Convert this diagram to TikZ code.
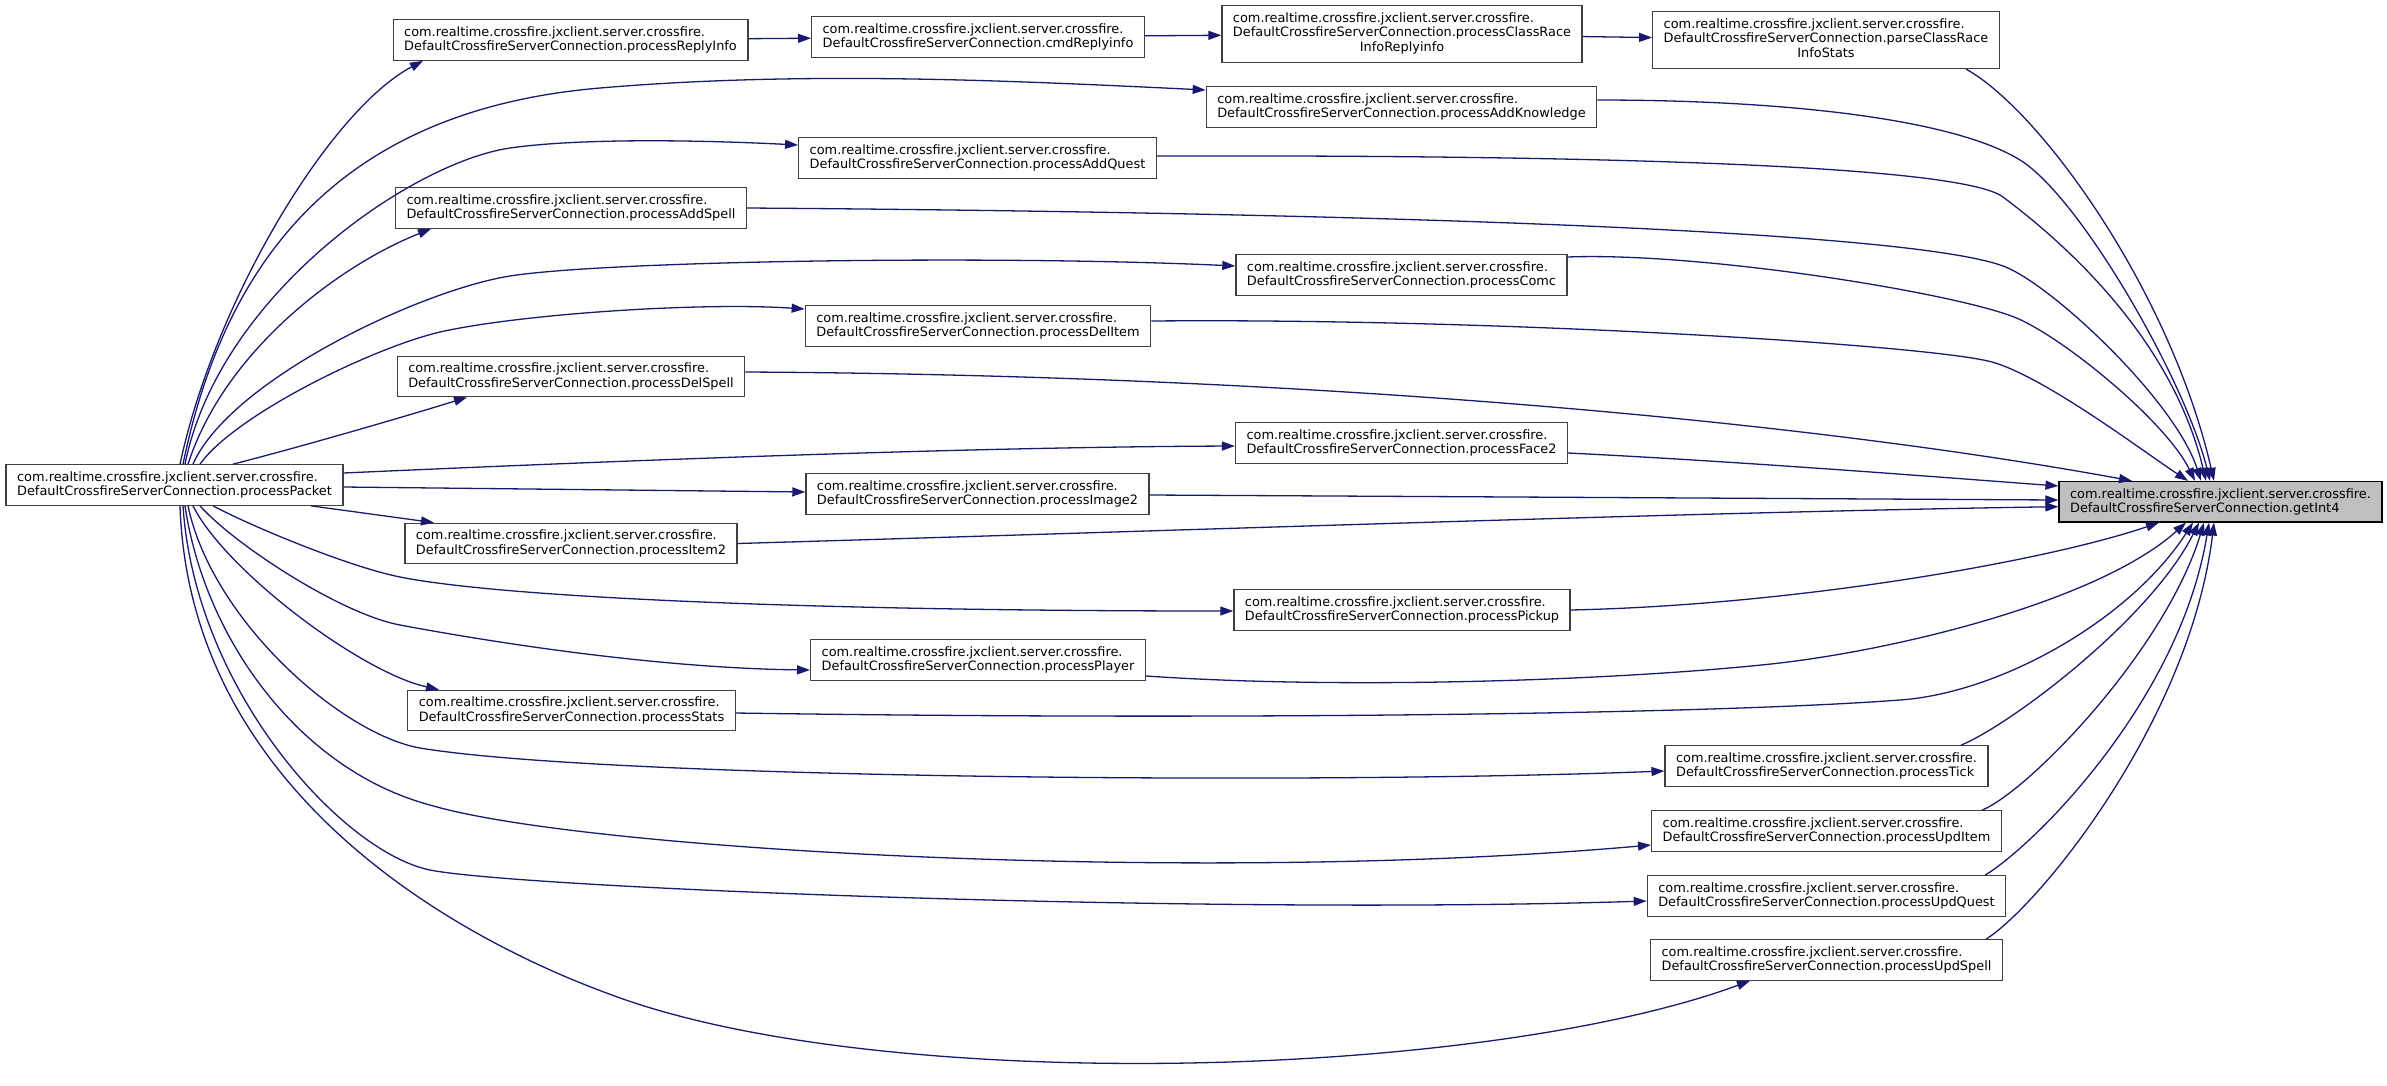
\documentclass[tikz,border=0pt]{standalone}
\usepackage{fontspec}
\setmainfont{DejaVu Sans}
\usetikzlibrary{arrows.meta}
\definecolor{callblue}{HTML}{191970}
\definecolor{boxframe}{HTML}{404040}
\definecolor{focusfill}{HTML}{BFBFBF}
\newcommand{\cfpkg}{com.realtime.crossfire.jxclient.server.crossfire.}
\newcommand{\cfcls}{DefaultCrossfireServerConnection.}
\tikzset{
  fn box/.style={
    draw=boxframe,           % node frame
    line width=1.3bp,
    fill=white,
    align=left,
    inner xsep=11bp, inner ysep=6.7bp,
    font=\fontsize{12.9bp}{14.5bp}\selectfont
  },
  focus box/.style={fn box, draw=black, fill=focusfill},
  call/.style={draw=callblue, line width=1.3bp, -{Triangle[length=13bp,width=9bp]}}
}

\begin{document}
\begin{tikzpicture}[x=1bp, y=-1bp]
    \useasboundingbox (0,0) rectangle (2387,1085);

    % Callers, column by column
    \node[fn box] (pp) at (174.5,485) {\cfpkg\\\cfcls processPacket};

    \node[fn box] (replyInfo) at (570.5,40) {\cfpkg\\\cfcls processReplyInfo};
    \node[fn box] (addSpell) at (571,208) {\cfpkg\\\cfcls processAddSpell};
    \node[fn box] (delSpell) at (571,376.5) {\cfpkg\\\cfcls processDelSpell};
    \node[fn box] (item2) at (571,543.5) {\cfpkg\\\cfcls processItem2};
    \node[fn box] (stats) at (571.5,710.5) {\cfpkg\\\cfcls processStats};

    \node[fn box] (cmdReply) at (978,37) {\cfpkg\\\cfcls cmdReplyinfo};
    \node[fn box] (addQuest) at (977.5,158) {\cfpkg\\\cfcls processAddQuest};
    \node[fn box] (delItem) at (978,326) {\cfpkg\\\cfcls processDelItem};
    \node[fn box] (image2) at (977.5,494) {\cfpkg\\\cfcls processImage2};
    \node[fn box] (player) at (978,660) {\cfpkg\\\cfcls processPlayer};

    \node[fn box] (classRace) at (1402,34) {\begin{tabular}{@{}l@{}}\cfpkg\\\cfcls processClassRace\\\multicolumn{1}{@{}c@{}}{InfoReplyinfo}\end{tabular}};
    \node[fn box] (addKnow) at (1401.5,107) {\cfpkg\\\cfcls processAddKnowledge};
    \node[fn box] (comc) at (1401.5,275) {\cfpkg\\\cfcls processComc};
    \node[fn box] (face2) at (1401.5,443) {\cfpkg\\\cfcls processFace2};
    \node[fn box] (pickup) at (1402,610) {\cfpkg\\\cfcls processPickup};

    \node[fn box] (parseStats) at (1826,40) {\begin{tabular}{@{}l@{}}\cfpkg\\\cfcls parseClassRace\\\multicolumn{1}{@{}c@{}}{InfoStats}\end{tabular}};
    \node[fn box] (tick) at (1826.5,766) {\cfpkg\\\cfcls processTick};
    \node[fn box] (updItem) at (1826.5,831) {\cfpkg\\\cfcls processUpdItem};
    \node[fn box] (updQuest) at (1826.5,896) {\cfpkg\\\cfcls processUpdQuest};
    \node[fn box] (updSpell) at (1826.5,960) {\cfpkg\\\cfcls processUpdSpell};

    % The called function
    \node[focus box] (g) at (2220.5,501.7) {\cfpkg\\\cfcls getInt4};

    % Chain along the top
    \draw[call] (replyInfo) -- (cmdReply);
    \draw[call] (cmdReply) -- (classRace);
    \draw[call] (classRace) -- (parseStats);

    % processPacket fan, upper half
    \draw[call] ([xshift=5.5bp]pp.north) .. controls (215,300) and (330,110) .. ([xshift=-147.5bp]replyInfo.south);
    \draw[call] ([xshift=8.5bp]pp.north) .. controls (225,260) and (340,110) .. (600,88) .. controls (800,71) and (1000,80) .. ([yshift=17bp]addKnow.west);
    \draw[call] ([xshift=10.5bp]pp.north) .. controls (219,295) and (411,162.5) .. (510,148) .. controls (580,138) and (700,140) .. ([yshift=13bp]addQuest.west);
    \draw[call] ([xshift=13.5bp]pp.north) .. controls (225,350) and (340,265) .. ([xshift=-140bp]addSpell.south);
    \draw[call] ([xshift=18.5bp]pp.north) .. controls (230,380) and (421,290) .. (510,276) .. controls (609,260.5) and (1000,255) .. ([yshift=9bp]comc.west);
    \draw[call] ([xshift=25.5bp]pp.north) .. controls (235,415) and (372,348) .. (440,332) .. controls (520,314) and (700,302) .. ([yshift=17bp]delItem.west);
    \draw[call] ([xshift=58.5bp]pp.north) .. controls (300,447) and (400,418) .. ([xshift=-104bp]delSpell.south);

    % processPacket, right side
    \draw[call] ([yshift=12bp]pp.east) .. controls (700,457) and (1000,447) .. ([yshift=-3bp]face2.west);
    \draw[call] ([yshift=-2bp]pp.east) -- ([yshift=2bp]image2.west);
    \draw[call] ([xshift=136.5bp]pp.south) -- ([xshift=-137bp]item2.north);

    % processPacket fan, lower half
    \draw[call] ([xshift=38.5bp]pp.south) .. controls (255,528) and (350,567) .. (400,577) .. controls (500,597) and (800,611) .. ([yshift=-1bp]pickup.west);
    \draw[call] ([xshift=25.5bp]pp.south) .. controls (235,545) and (341,614) .. (400,625) .. controls (480,640) and (650,668) .. ([yshift=-10bp]player.west);
    \draw[call] ([xshift=18.5bp]pp.south) .. controls (225,570) and (360,672) .. ([xshift=-132.5bp]stats.north);
    \draw[call] ([xshift=13.5bp]pp.south) .. controls (212,620) and (341,734) .. (420,748) .. controls (600,778) and (1300,785) .. ([yshift=-5bp]tick.west);
    \draw[call] ([xshift=10.5bp]pp.south) .. controls (205,640) and (300,770) .. (430,805) .. controls (580,850) and (1200,885) .. ([yshift=-14bp]updItem.west);
    \draw[call] ([xshift=8.5bp]pp.south) .. controls (195,690) and (342,852) .. (430,870) .. controls (520,888) and (1200,915) .. ([yshift=-5bp]updQuest.west);
    \draw[call] ([xshift=5.5bp]pp.south) .. controls (190,800) and (471,944) .. (612,995) .. controls (880,1095) and (1480,1080) .. ([xshift=-76.5bp]updSpell.south);

    % Into getInt4 from above
    \draw[call] ([xshift=140bp]parseStats.south) .. controls (2040,110) and (2170,290) .. ([xshift=-6.5bp]g.north);
    \draw[call] ([yshift=7bp]addKnow.east) .. controls (1780,100) and (1952,118) .. (2020,160) .. controls (2080,197) and (2185,380) .. ([xshift=-10.5bp]g.north);
    \draw[call] ([yshift=2bp]addQuest.east) .. controls (1500,155) and (1955,161) .. (2003,197) .. controls (2051,233) and (2170,330) .. ([xshift=-14.5bp]g.north);
    \draw[call] (addSpell.east) .. controls (1300,212) and (1900,228) .. (2003,266) .. controls (2050,283) and (2175,400) .. ([xshift=-19.5bp]g.north);
    \draw[call] ([yshift=18bp]comc.east) .. controls (1700,252) and (1950,292) .. (2014,317) .. controls (2060,335) and (2165,420) .. ([xshift=-25.5bp]g.north);
    \draw[call] ([yshift=5bp]delItem.east) .. controls (1500,318) and (1930,345) .. (1992,362) .. controls (2045,377) and (2144,452) .. ([xshift=-32.5bp]g.north);
    \draw[call] ([yshift=4.5bp]delSpell.east) .. controls (1300,375) and (1800,420) .. ([xshift=-88.5bp]g.north);

    % Into getInt4 from the left
    \draw[call] ([yshift=-10bp]face2.east) .. controls (1750,462) and (1950,478) .. ([yshift=15.7bp]g.west);
    \draw[call] ([yshift=-1bp]image2.east) -- ([yshift=1.7bp]g.west);
    \draw[call] (item2.east) .. controls (1200,530) and (1700,512) .. ([yshift=-5bp]g.west);

    % Into getInt4 from below
    \draw[call] (pickup.east) .. controls (1800,605) and (2050,560) .. ([xshift=-61.5bp]g.south);
    \draw[call] ([yshift=-16bp]player.east) .. controls (1350,690) and (1620,680) .. (1771,664) .. controls (1900,650) and (2100,600) .. ([xshift=-34.5bp]g.south);
    \draw[call] ([yshift=-2.5bp]stats.east) .. controls (1200,720) and (1700,715) .. (1900,700) .. controls (2000,693) and (2130,620) .. ([xshift=-27.5bp]g.south);
    \draw[call] ([xshift=134.5bp]tick.north) .. controls (2010,725) and (2150,620) .. ([xshift=-21.5bp]g.south);
    \draw[call] ([xshift=155.5bp]updItem.north) .. controls (2030,790) and (2165,650) .. ([xshift=-16.5bp]g.south);
    \draw[call] ([xshift=158.5bp]updQuest.north) .. controls (2035,845) and (2180,700) .. ([xshift=-11.5bp]g.south);
    \draw[call] ([xshift=159.5bp]updSpell.north) .. controls (2040,905) and (2190,720) .. ([xshift=-6.5bp]g.south);
\end{tikzpicture}
\end{document}
